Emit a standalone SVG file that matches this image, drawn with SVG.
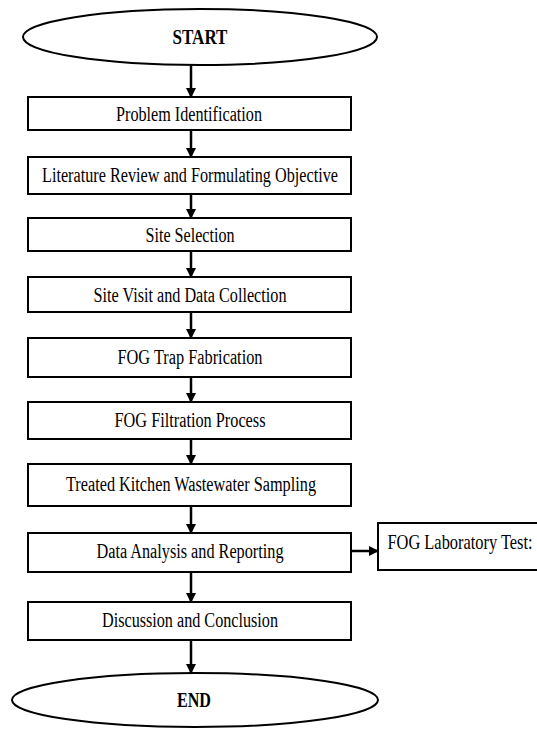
<svg xmlns="http://www.w3.org/2000/svg" width="537" height="731" viewBox="0 0 537 731">
  <defs>
    <marker id="arrow" markerWidth="10" markerHeight="10" refX="9" refY="5" orient="auto" markerUnits="userSpaceOnUse">
      <path d="M0,0 L10,5 L0,10 Z" fill="#000"/>
    </marker>
  </defs>
  <style>
    .box { fill: #fff; stroke: #000; stroke-width: 2; }
    .term { fill: #fff; stroke: #000; stroke-width: 2; }
    .bold { font-weight: bold; }
    .conn { stroke: #000; stroke-width: 2.5; fill: none; marker-end: url(#arrow); }
  </style>
  <rect width="537" height="731" fill="#fff"/>

  <!-- connectors -->
  <g id="connectors">
    <line class="conn" x1="191" y1="65" x2="191" y2="97"/>
    <line class="conn" x1="191" y1="130" x2="191" y2="157"/>
    <line class="conn" x1="191" y1="194" x2="191" y2="218"/>
    <line class="conn" x1="191" y1="251" x2="191" y2="277"/>
    <line class="conn" x1="191" y1="312" x2="191" y2="338"/>
    <line class="conn" x1="191" y1="377" x2="191" y2="402"/>
    <line class="conn" x1="191" y1="439" x2="191" y2="464"/>
    <line class="conn" x1="191" y1="506" x2="191" y2="533"/>
    <line class="conn" x1="191" y1="572" x2="191" y2="602"/>
    <line class="conn" x1="191" y1="640" x2="191" y2="673"/>
    <line class="conn" x1="352" y1="551" x2="378" y2="551"/>
  </g>

  <g font-family="'Liberation Serif', 'Times New Roman', Times, serif" font-size="20" fill="#000" text-anchor="middle">
    <g id="start">
      <ellipse class="term" cx="200" cy="37" rx="177" ry="28"/>
      <text class="bold" x="200" y="44" textLength="55" lengthAdjust="spacingAndGlyphs">START</text>
    </g>

    <g id="problem-identification">
      <rect class="box" x="28" y="97" width="323" height="33"/>
      <text x="189" y="121" textLength="146" lengthAdjust="spacingAndGlyphs">Problem Identification</text>
    </g>

    <g id="literature-review">
      <rect class="box" x="28" y="157" width="323" height="37"/>
      <text x="190" y="182" textLength="296" lengthAdjust="spacingAndGlyphs">Literature Review and Formulating Objective</text>
    </g>

    <g id="site-selection">
      <rect class="box" x="28" y="218" width="323" height="33"/>
      <text x="190" y="242" textLength="89" lengthAdjust="spacingAndGlyphs">Site Selection</text>
    </g>

    <g id="site-visit">
      <rect class="box" x="28" y="277" width="323" height="35"/>
      <text x="190" y="302" textLength="193" lengthAdjust="spacingAndGlyphs">Site Visit and Data Collection</text>
    </g>

    <g id="fog-trap-fabrication">
      <rect class="box" x="28" y="338" width="323" height="39"/>
      <text x="190" y="364" textLength="145" lengthAdjust="spacingAndGlyphs">FOG Trap Fabrication</text>
    </g>

    <g id="fog-filtration">
      <rect class="box" x="28" y="402" width="323" height="37"/>
      <text x="190" y="427" textLength="151" lengthAdjust="spacingAndGlyphs">FOG Filtration Process</text>
    </g>

    <g id="wastewater-sampling">
      <rect class="box" x="28" y="464" width="323" height="42"/>
      <text x="191" y="491" textLength="250" lengthAdjust="spacingAndGlyphs">Treated Kitchen Wastewater Sampling</text>
    </g>

    <g id="data-analysis">
      <rect class="box" x="28" y="533" width="323" height="39"/>
      <text x="190" y="558" textLength="187" lengthAdjust="spacingAndGlyphs">Data Analysis and Reporting</text>
    </g>

    <g id="fog-lab-test">
      <rect class="box" x="378" y="523" width="170" height="47"/>
      <!-- narrow face: the label is squeezed horizontally so it stays inside the page -->
      <text transform="translate(460 549) scale(0.82 1)" x="0" y="0">FOG Laboratory Test:</text>
    </g>

    <g id="discussion">
      <rect class="box" x="28" y="602" width="323" height="38"/>
      <text x="190" y="627" textLength="176" lengthAdjust="spacingAndGlyphs">Discussion and Conclusion</text>
    </g>

    <g id="end">
      <ellipse class="term" cx="195" cy="700" rx="183" ry="27" stroke-width="3"/>
      <text class="bold" x="194" y="707" textLength="34" lengthAdjust="spacingAndGlyphs">END</text>
    </g>
  </g>
</svg>
